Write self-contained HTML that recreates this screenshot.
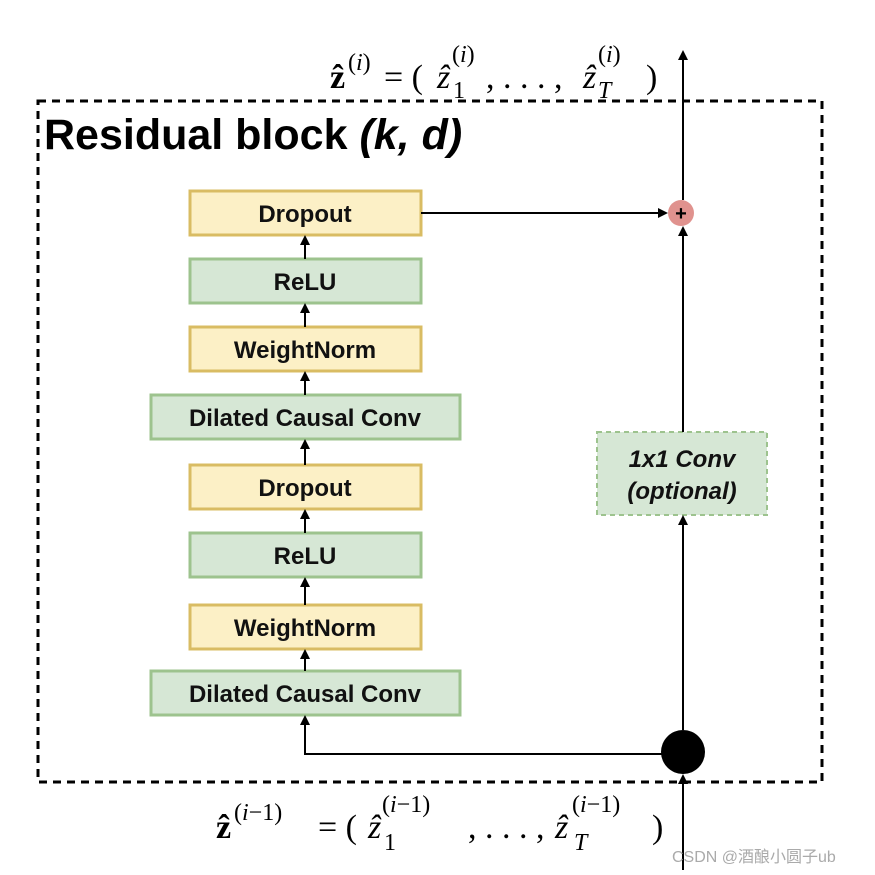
<!DOCTYPE html>
<html><head><meta charset="utf-8"><style>
html,body{margin:0;padding:0;background:#fff;width:875px;height:875px;overflow:hidden}
svg{display:block}
.b{font-family:"Liberation Sans",sans-serif;font-size:24px;font-weight:bold;fill:#111;text-anchor:middle}
.m{font-family:"Liberation Serif",serif;fill:#000;font-size:34px}
.s{font-family:"Liberation Serif",serif;fill:#000;font-size:24px}
</style></head><body>
<svg width="875" height="875" viewBox="0 0 875 875" xmlns="http://www.w3.org/2000/svg">
<defs><marker id="a" markerWidth="10" markerHeight="10" refX="8" refY="5" orient="auto" markerUnits="userSpaceOnUse"><path d="M0,0 L10,5 L0,10 z" fill="#000"/></marker></defs>
<rect x="38" y="101" width="784" height="681" fill="none" stroke="#000" stroke-width="3" stroke-dasharray="8,6"/>
<text x="44" y="149" font-family="Liberation Sans,sans-serif" font-weight="bold" font-size="43" fill="#000">Residual block <tspan font-style="italic">(k, d)</tspan></text>
<g stroke-width="3">
<rect x="190" y="191" width="231" height="44" fill="#fcf0c6" stroke="#d9bc63"/>
<rect x="190" y="259" width="231" height="44" fill="#d6e7d5" stroke="#9dc38e"/>
<rect x="190" y="327" width="231" height="44" fill="#fcf0c6" stroke="#d9bc63"/>
<rect x="151" y="395" width="309" height="44" fill="#d6e7d5" stroke="#9dc38e"/>
<rect x="190" y="465" width="231" height="44" fill="#fcf0c6" stroke="#d9bc63"/>
<rect x="190" y="533" width="231" height="44" fill="#d6e7d5" stroke="#9dc38e"/>
<rect x="190" y="605" width="231" height="44" fill="#fcf0c6" stroke="#d9bc63"/>
<rect x="151" y="671" width="309" height="44" fill="#d6e7d5" stroke="#9dc38e"/>
</g>
<rect x="597" y="432" width="170" height="83" fill="#d6e7d5" stroke="#9dc38e" stroke-width="2" stroke-dasharray="5,4"/>
<text class="b" x="305" y="222">Dropout</text>
<text class="b" x="305" y="290">ReLU</text>
<text class="b" x="305" y="358">WeightNorm</text>
<text class="b" x="305" y="426">Dilated Causal Conv</text>
<text class="b" x="305" y="496">Dropout</text>
<text class="b" x="305" y="564">ReLU</text>
<text class="b" x="305" y="636">WeightNorm</text>
<text class="b" x="305" y="702">Dilated Causal Conv</text>
<text class="b" x="682" y="467" font-style="italic">1x1 Conv</text>
<text class="b" x="682" y="499" font-style="italic">(optional)</text>
<g stroke="#000" stroke-width="2" fill="none" marker-end="url(#a)">
<line x1="305" y1="259" x2="305" y2="237"/>
<line x1="305" y1="327" x2="305" y2="305"/>
<line x1="305" y1="395" x2="305" y2="373"/>
<line x1="305" y1="465" x2="305" y2="441"/>
<line x1="305" y1="533" x2="305" y2="511"/>
<line x1="305" y1="605" x2="305" y2="579"/>
<line x1="305" y1="671" x2="305" y2="651"/>
<polyline points="662,754 305,754 305,717"/>
<line x1="421" y1="213" x2="666" y2="213"/>
<line x1="683" y1="870" x2="683" y2="776"/>
<line x1="683" y1="730" x2="683" y2="517"/>
<line x1="683" y1="432" x2="683" y2="228"/>
<line x1="683" y1="200" x2="683" y2="52"/>
</g>
<circle cx="681" cy="213" r="13" fill="#e0928e"/>
<text x="681" y="220" font-family="Liberation Sans,sans-serif" font-weight="bold" font-size="20" text-anchor="middle">+</text>
<circle cx="683" cy="752" r="22" fill="#000"/>
<text class="m" x="330" y="88" font-weight="bold">ẑ</text>
<text class="s" x="348" y="70">(<tspan font-style="italic">i</tspan>)</text>
<text class="m" x="384" y="88">= (</text>
<text class="m" x="437" y="88" font-style="italic">ẑ</text>
<text class="s" x="452" y="62">(<tspan font-style="italic">i</tspan>)</text>
<text class="s" x="453" y="98">1</text>
<text class="m" x="486" y="88">, . . . ,</text>
<text class="m" x="583" y="88" font-style="italic">ẑ</text>
<text class="s" x="598" y="62">(<tspan font-style="italic">i</tspan>)</text>
<text class="s" x="598" y="98" font-style="italic">T</text>
<text class="m" x="646" y="88">)</text>
<text class="m" x="216" y="838" font-weight="bold">ẑ</text>
<text class="s" x="234" y="820">(<tspan font-style="italic">i</tspan>−1)</text>
<text class="m" x="318" y="838">= (</text>
<text class="m" x="368" y="838" font-style="italic">ẑ</text>
<text class="s" x="382" y="812">(<tspan font-style="italic">i</tspan>−1)</text>
<text class="s" x="384" y="850">1</text>
<text class="m" x="468" y="838">, . . . ,</text>
<text class="m" x="555" y="838" font-style="italic">ẑ</text>
<text class="s" x="572" y="812">(<tspan font-style="italic">i</tspan>−1)</text>
<text class="s" x="574" y="850" font-style="italic">T</text>
<text class="m" x="652" y="838">)</text>
<text x="672" y="862" font-family="Liberation Sans,'Noto Sans CJK SC',sans-serif" font-size="16" fill="#aaa">CSDN @酒酿小圆子ub</text>
</svg>
</body></html>
